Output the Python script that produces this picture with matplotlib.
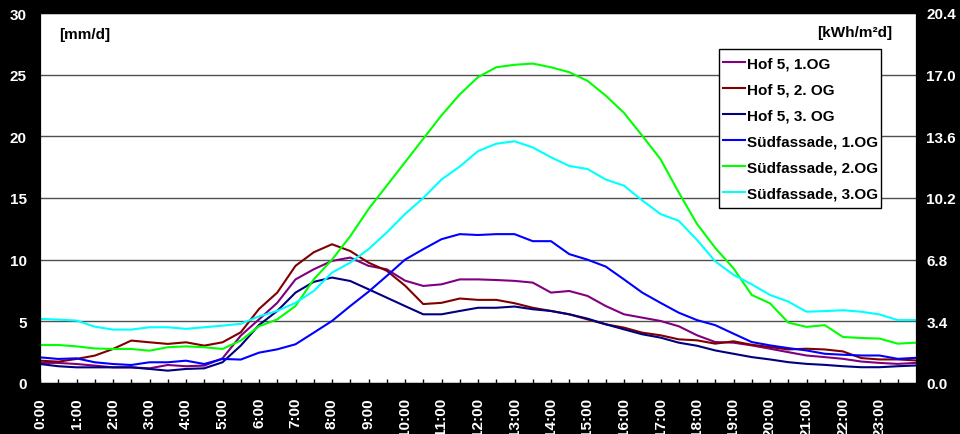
import numpy as np
import matplotlib
matplotlib.use("Agg")
import matplotlib.pyplot as plt
from matplotlib.patches import Rectangle

plt.rcParams['font.family'] = ['Liberation Sans', 'DejaVu Sans']
plt.rcParams['font.weight'] = 'bold'

# half-hour time steps 0:00 .. 24:00
hours = np.arange(49) * 0.5

hof5_1og = [1.63, 1.63, 1.54, 1.41, 1.27, 1.27, 1.19, 1.46, 1.36, 1.41,
            2.0, 3.84, 5.16, 6.5, 8.4, 9.22, 9.9, 10.17, 9.5, 9.22,
            8.3, 7.87, 8.0, 8.4, 8.4, 8.35, 8.28, 8.14, 7.33, 7.46,
            7.06, 6.24, 5.57, 5.3, 5.03, 4.6, 3.87, 3.32, 3.27, 3.05,
            2.78, 2.5, 2.23, 2.1, 1.96, 1.74, 1.63, 1.55, 1.63]
hof5_2og = [1.81, 1.73, 1.95, 2.22, 2.76, 3.44, 3.3, 3.17, 3.3, 3.03,
            3.3, 4.11, 6.0, 7.33, 9.5, 10.6, 11.25, 10.7, 9.76, 9.1,
            7.9, 6.4, 6.5, 6.85, 6.74, 6.74, 6.47, 6.1, 5.84, 5.57,
            5.16, 4.76, 4.49, 4.08, 3.87, 3.54, 3.46, 3.19, 3.38, 3.1,
            2.92, 2.72, 2.78, 2.72, 2.56, 2.02, 1.91, 1.91, 1.83]
hof5_3og = [1.54, 1.36, 1.27, 1.27, 1.27, 1.27, 1.14, 1.0, 1.14, 1.19,
            1.68, 3.03, 4.7, 5.84, 7.33, 8.2, 8.55, 8.27, 7.6, 6.92,
            6.24, 5.57, 5.57, 5.84, 6.1, 6.1, 6.2, 5.98, 5.84, 5.57,
            5.22, 4.76, 4.35, 3.95, 3.68, 3.27, 3.02, 2.64, 2.37, 2.1,
            1.91, 1.69, 1.55, 1.47, 1.36, 1.28, 1.28, 1.36, 1.42]
sued_1og = [2.08, 1.95, 2.0, 1.68, 1.54, 1.46, 1.68, 1.68, 1.81, 1.54,
            1.95, 1.9, 2.46, 2.73, 3.14, 4.08, 5.03, 6.24, 7.4, 8.68,
            10.0, 10.85, 11.66, 12.07, 12.0, 12.07, 12.07, 11.5, 11.5, 10.45,
            10.0, 9.44, 8.4, 7.33, 6.5, 5.7, 5.1, 4.69, 4.0, 3.32,
            3.05, 2.83, 2.64, 2.37, 2.29, 2.23, 2.23, 1.96, 2.04]
sued_2og = [3.08, 3.08, 2.97, 2.8, 2.76, 2.76, 2.62, 2.9, 2.97, 2.9,
            2.76, 3.44, 4.6, 5.16, 6.24, 8.4, 10.0, 11.9, 14.1, 16.0,
            17.9, 19.8, 21.7, 23.4, 24.8, 25.6, 25.8, 25.9, 25.6, 25.2,
            24.5, 23.3, 21.9, 20.05, 18.15, 15.45, 12.9, 10.95, 9.3, 7.14,
            6.46, 4.9, 4.55, 4.69, 3.73, 3.65, 3.6, 3.19, 3.27]
sued_3og = [5.2, 5.14, 5.06, 4.57, 4.33, 4.33, 4.52, 4.52, 4.39, 4.52,
            4.65, 4.8, 5.4, 5.84, 6.5, 7.46, 8.95, 9.76, 10.85, 12.2,
            13.7, 15.0, 16.5, 17.55, 18.8, 19.4, 19.6, 19.1, 18.3, 17.6,
            17.35, 16.5, 16.0, 14.8, 13.7, 13.15, 11.6, 9.86, 8.77, 8.0,
            7.14, 6.6, 5.78, 5.83, 5.9, 5.78, 5.56, 5.1, 5.1]

series = [
    ("Hof 5, 1.OG", hof5_1og, "#800080"),
    ("Hof 5, 2. OG", hof5_2og, "#800000"),
    ("Hof 5, 3. OG", hof5_3og, "#000080"),
    ("Südfassade, 1.OG", sued_1og, "#0000FF"),
    ("Südfassade, 2.OG", sued_2og, "#00FF00"),
    ("Südfassade, 3.OG", sued_3og, "#00FFFF"),
]

left_ticks = [0, 5, 10, 15, 20, 25, 30]
right_ticks = [0.0, 3.4, 6.8, 10.2, 13.6, 17.0, 20.4]
hour_labels = [f"{h}:00" for h in range(24)]

FS = 11
W, H = 960, 435

fig = plt.figure(figsize=(9.6, 4.35), dpi=100, facecolor="black")
ax = fig.add_axes([40 / W, 51 / H, 876 / W, 370 / H])
ax.set_facecolor("white")

for name, vals, col in series:
    ax.plot(hours, vals, color=col, lw=1.5, label=name)

ax.set_xlim(0, 24)
ax.set_ylim(0, 30)
ax.set_yticks(left_ticks)
ax.set_yticklabels([str(t) for t in left_ticks])
ax.yaxis.grid(True, color="#505050", lw=1.0)
ax.set_axisbelow(True)
ax.tick_params(axis="y", length=0, pad=9.5, labelcolor="white", labelsize=FS)
ax.set_xticks(np.arange(24))
ax.set_xticklabels(hour_labels, rotation=90)
ax.set_xticks(np.arange(0.5, 24, 1.0), minor=True)
ax.tick_params(axis="x", which="both", direction="in", length=3, width=1,
               color="black", labelcolor="white", labelsize=FS, pad=10)
for sp in ax.spines.values():
    sp.set_color("black")

ax2 = ax.twinx()
ax2.set_ylim(0, 20.4)
ax2.set_yticks(right_ticks)
ax2.set_yticklabels([f"{t:.1f}" for t in right_ticks])
ax2.tick_params(axis="y", length=0, pad=7.5, labelcolor="white", labelsize=FS)
for sp in ax2.spines.values():
    sp.set_color("black")

ax.text(0.022, 0.943, "[mm/d]", transform=ax.transAxes, fontsize=FS,
        fontweight="bold", color="black", ha="left", va="center")
ax2.text(0.9726, 0.949, "[kWh/m²d]", transform=ax.transAxes, fontsize=FS,
         fontweight="bold", color="black", ha="right", va="center")

# legend frame
frame = Rectangle((719 / W, (H - 209) / H), 162 / W, 159 / H,
                  transform=fig.transFigure, facecolor="white",
                  edgecolor="black", lw=1.0, zorder=4, clip_on=False)
ax2.add_patch(frame)

h, l = ax.get_legend_handles_labels()
leg = ax2.legend(h, l, loc="upper left",
                 bbox_to_anchor=((723 - 40) / 876, (384 - 57.6) / 370),
                 frameon=False,
                 prop={"weight": "bold", "size": FS},
                 handlelength=1.45, handletextpad=0.13, labelspacing=0.78,
                 borderpad=0.0, borderaxespad=0.0)
leg.set_zorder(6)

fig.savefig("out.png", dpi=100, facecolor="black")
